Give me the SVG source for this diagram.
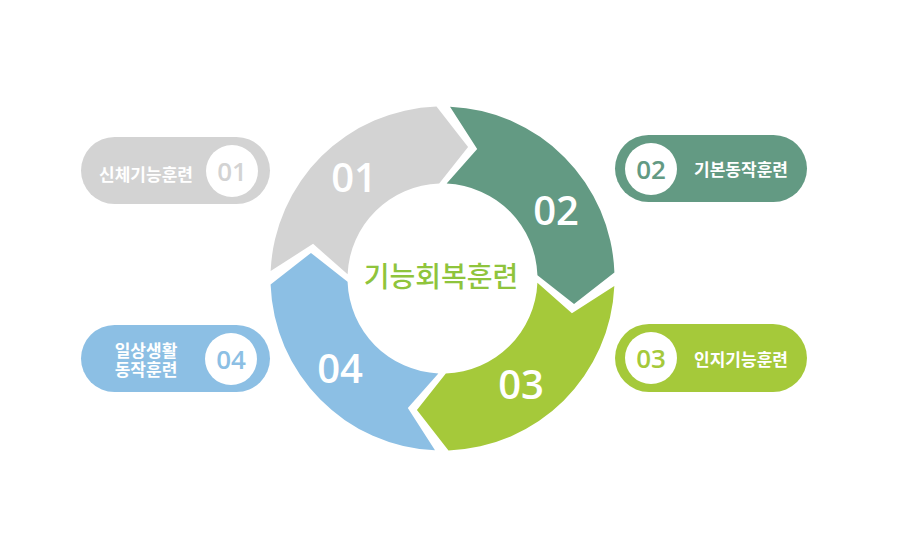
<svg xmlns="http://www.w3.org/2000/svg" width="900" height="547" viewBox="0 0 900 547">
  <style>
    .num { font-family: "Open Sans", "Liberation Sans", sans-serif; font-weight: 600; text-anchor: middle; }
    .ring-num { font-size: 40px; fill: #ffffff; }
    .pill-num { font-size: 26px; }
    .label { font-family: "Noto Sans CJK KR", "Noto Sans", sans-serif; font-weight: 700; font-size: 17px; fill: #ffffff; text-anchor: middle; }
    .center { font-family: "Noto Sans CJK KR", "Noto Sans", sans-serif; font-weight: 500; font-size: 28px; fill: #8fc43c; text-anchor: middle; }
    .c-gray { fill: #d3d3d3; }
    .c-teal { fill: #639a83; }
    .c-lime { fill: #a5c93a; }
    .c-blue { fill: #8cbfe4; }
  </style>
  <rect width="900" height="547" fill="#ffffff"/>

  <g id="ring">
    <g id="seg-01">
      <path class="c-gray" d="M270.66,271.0 A172,172 0 0 1 436.5,106.6 L468.07,146.96 L439.18,183.56 A95,95 0 0 0 347.59,274.36 L313.07,243.82 Z"/>
      <text class="num ring-num" x="354" y="192">01</text>
    </g>
    <g id="seg-02">
      <path class="c-teal" d="M450.0,106.66 A172,172 0 0 1 614.4,272.5 L574.04,304.07 L537.44,275.18 A95,95 0 0 0 446.64,183.59 L477.18,149.07 Z"/>
      <text class="num ring-num" x="556" y="225">02</text>
    </g>
    <g id="seg-03">
      <path class="c-lime" d="M614.34,286.0 A172,172 0 0 1 448.5,450.4 L416.93,410.04 L445.82,373.44 A95,95 0 0 0 537.41,282.64 L571.93,313.18 Z"/>
      <text class="num ring-num" x="521" y="399">03</text>
    </g>
    <g id="seg-04">
      <path class="c-blue" d="M435.0,450.34 A172,172 0 0 1 270.6,284.5 L310.96,252.93 L347.56,281.82 A95,95 0 0 0 438.36,373.41 L407.82,407.93 Z"/>
      <text class="num ring-num" x="340" y="383">04</text>
    </g>
    <g id="center-label">
      <text class="center" x="441" y="287">기능회복훈련</text>
    </g>
  </g>

  <g id="pill-01">
    <rect class="c-gray" x="81" y="137" width="189" height="67" rx="33.5"/>
    <circle cx="232" cy="171" r="26" fill="#ffffff"/>
    <text class="num pill-num c-gray" x="232" y="181">01</text>
    <text class="label" x="146" y="181">신체기능훈련</text>
  </g>

  <g id="pill-02">
    <rect class="c-teal" x="615" y="135" width="192" height="67" rx="33.5"/>
    <circle cx="651" cy="169" r="26" fill="#ffffff"/>
    <text class="num pill-num c-teal" x="651" y="178.5">02</text>
    <text class="label" x="741" y="176">기본동작훈련</text>
  </g>

  <g id="pill-03">
    <rect class="c-lime" x="615" y="324" width="192" height="68" rx="34"/>
    <circle cx="651" cy="358" r="26" fill="#ffffff"/>
    <text class="num pill-num c-lime" x="651" y="367.5">03</text>
    <text class="label" x="741" y="366">인지기능훈련</text>
  </g>

  <g id="pill-04">
    <rect class="c-blue" x="81" y="325" width="189" height="67" rx="33.5"/>
    <circle cx="231" cy="359" r="26" fill="#ffffff"/>
    <text class="num pill-num c-blue" x="231" y="368.5">04</text>
    <text class="label" x="146" y="357"><tspan x="146" y="357">일상생활</tspan><tspan x="146" y="376">동작훈련</tspan></text>
  </g>
</svg>
